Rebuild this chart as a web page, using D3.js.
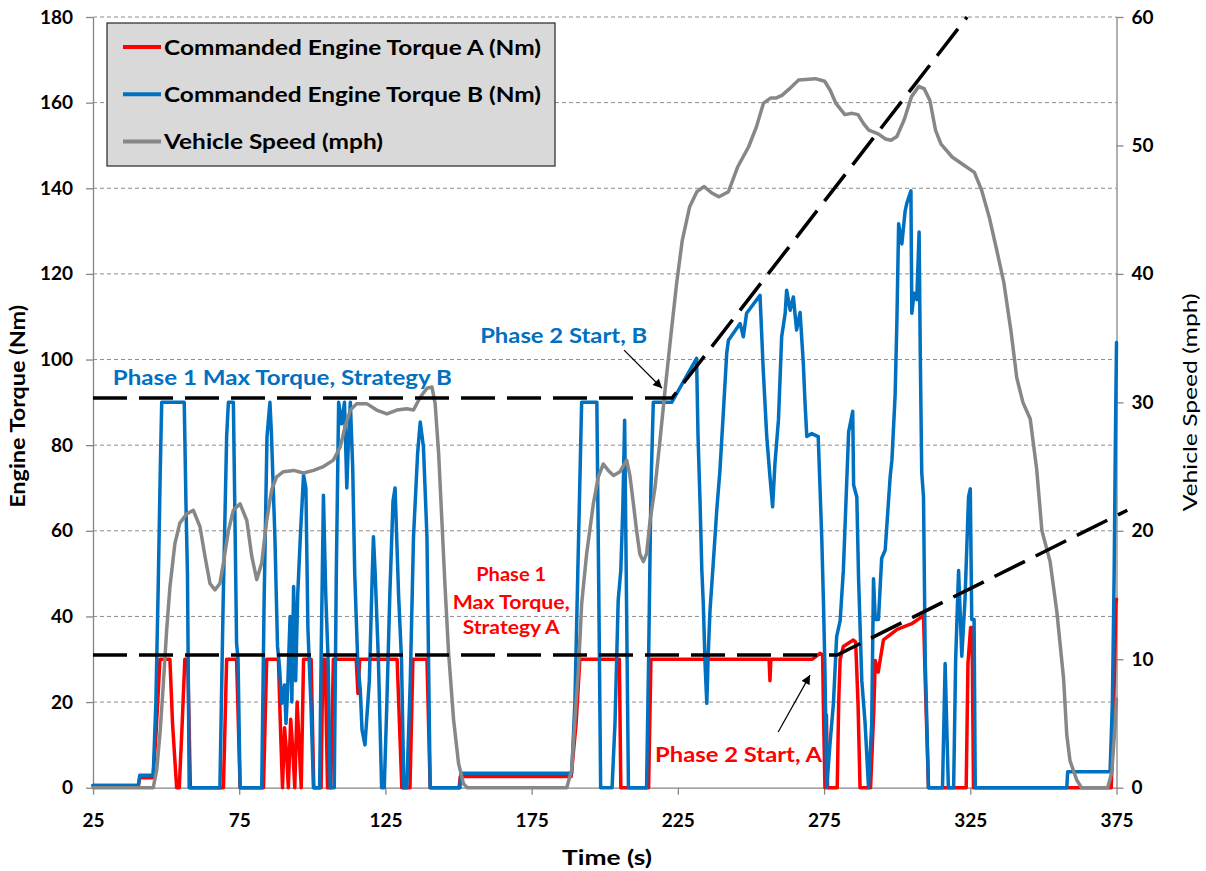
<!DOCTYPE html>
<html>
<head>
<meta charset="utf-8">
<script src="https://cdn.jsdelivr.net/npm/d3@7"></script>
<style>
  body { margin: 0; background: #fff; }
  svg text { font-family: Lato, "Open Sans", sans-serif; }
</style>
</head>
<body>
<svg id="chart" width="1206" height="871"></svg>
<script>
// ---- data -------------------------------------------------------------
// Commanded engine torque, strategy A: [time s, torque Nm]
const torqueA = [
  [25,0.5],[40.5,0.5],[41,2.3],[45.5,2.3],[46.5,12],[47.9,30],[51.3,30],[52.2,15],[53.6,0],
  [54.5,0],[55.5,15],[56.4,30],[57.4,30],[58.3,0],[69.6,0],[70.7,30],[74.1,30],[75.3,0],
  [83.3,0],[84.4,30],[88.4,30],[89.2,12],[89.8,0],[90.5,14],[91.2,8],[91.8,0],[92.6,16],
  [93.3,9],[94,0],[94.8,20],[95.5,10],[96.2,0],[97,30],[99.6,30],[100.5,0],[103,0],
  [103.6,30],[104.4,30],[105.2,0],[106.3,0],[107.2,30],[115,30],[115.6,22],[116.2,30],
  [129,30],[129.8,15],[130.6,0],[133.4,0],[134.4,30],[139.2,30],[140.3,0],[150.2,0],
  [150.6,2.6],[188.5,2.6],[190.2,15],[191.5,30],[205,30],[205.5,0],[215,0],[215.8,30],
  [256.2,30],[256.5,25],[256.8,30],[271,30],[273.6,31.4],[274.5,31],[274.8,18],[275.3,0],
  [275.8,17],[276.2,0],[279.5,0],[280,20],[280.5,30],[281.6,33],[285,34.5],[285.8,34],
  [286.6,20],[287.3,0],[290.9,0],[292,18],[292.5,29.7],[293.5,27],[295.3,34.5],[300,37],
  [305,38.3],[309,40.2],[309.6,25],[310.7,0],[323.6,0],[324.2,29],[325.1,37.4],
  [325.6,37.4],[326.1,0],[373.2,0],[373.8,12],[374.4,30],[374.8,43],[375,44]
];

// Commanded engine torque, strategy B: [time s, torque Nm]
const torqueB = [
  [25,0.5],[40.5,0.5],[41,2.9],[45.6,2.9],[46.5,20],[47.3,47],[48,74],[48.5,90],[56.2,90],
  [56.8,66],[57.3,50],[57.9,0],[68.4,0],[69.5,43],[70.7,82],[71.3,90],[73,90],[73.6,60],
  [74.1,33.7],[74.6,30],[75.3,0],[82.7,0],[83.5,43],[84.5,82],[85.5,90],[86,83],[87.2,58.6],
  [88.1,33],[88.8,28],[89.5,19.7],[90.5,24],[91,15],[91.5,22],[92.4,40],[93,20],[93.6,47],
  [94.3,25],[95,45],[96,60],[97,73],[97.8,70],[98.5,37],[99.5,20],[100.4,0],[102.5,0],
  [103,30],[103.8,68.3],[104.6,45],[105.4,29.8],[106.1,0],[107.5,0],[108.2,50],[109,90],
  [110,85],[111,90],[111.8,70],[112.4,82],[113,90],[113.8,75],[114.5,50],[115.5,30],
  [116.4,22.8],[117,13.5],[118,10],[119.5,25],[120.5,50],[120.9,58.6],[121.5,50],
  [122.6,29.8],[123.7,0],[124.6,0],[125.5,20],[126.5,45],[127.6,67],[128.3,70],[129.5,45],
  [130.5,29.8],[131.3,0],[132.3,0],[133.5,25],[134.6,58.6],[136,78],[136.9,85.4],[138,79.6],
  [139.2,58.6],[140.3,0],[150.5,0],[150.8,3.4],[188.7,3.4],[189.8,20],[190.8,50.8],
  [192.1,90],[197.3,90],[197.9,50],[198.6,0],[202.5,0],[203.5,15],[204.6,43.8],[205.5,50.8],
  [206.2,66],[206.8,85.8],[207.5,40],[208.1,0],[214.3,0],[215,30],[215.8,70],[216.6,90],
  [222.9,90],[231.4,100.3],[231.9,82],[232.6,66.4],[233.2,50.8],[233.7,43],[234.3,29],
  [234.9,19.7],[235.4,31.4],[236,41.5],[237.1,52.4],[238.3,64.8],[239.4,74.2],[240.6,88.2],
  [241.7,101.4],[242.3,104.5],[246.3,108.4],[247.4,105.3],[248.5,110.8],[253.1,115],
  [254.2,97.5],[255.4,82],[256.5,72.6],[257.4,65.6],[258.2,75.7],[259.4,85.9],[260.5,105.3],
  [261.7,110.8],[262.2,116.2],[263.4,111.5],[264.5,114.6],[265.6,106.9],[266.8,111],
  [267.9,99.1],[268.5,89.7],[269.1,82],[270.8,82.7],[273,82],[273.6,70.3],[274.2,58.6],
  [274.8,43],[275.3,27.5],[275.9,0],[277,10],[278.2,19.7],[279.3,35.3],[280.5,39],
  [281.6,50.8],[283.4,83.1],[284.8,87.9],[285.1,70.7],[286.2,67.9],[286.8,48.8],[287.9,25],
  [289,15.4],[290.2,0],[291.3,15],[291.9,48.8],[292.5,39.3],[293.6,39.3],[294.7,53.6],
  [295.9,55.5],[297.6,72.6],[298.2,76.5],[299.3,91.7],[299.9,108.9],[300.5,131.7],
  [301.6,127],[302.7,134.6],[303.3,136.5],[304.7,139.4],[305,110.8],[305.8,115.5],
  [306.7,114],[307.5,129.8],[307.9,101.2],[308.4,73.6],[309,67.9],[309.6,29.7],[310.7,0],
  [315.5,0],[316.4,29],[317.5,0],[319.3,0],[320,30],[321,50.7],[322.1,30.7],[323.2,44],
  [324.4,67.9],[325,69.8],[325.5,39.3],[326.3,39.3],[326.7,0],[358,0],[358.3,3.7],
  [372.8,3.7],[373.6,20],[374.2,50],[374.6,80],[375,104]
];

// Vehicle speed: [time s, mph]
const speed = [
  [25,0],[45.6,0],[46.8,1.4],[48,4.5],[49,7.9],[50.2,12.3],[51.3,15.6],[53,19],[54.7,20.6],
  [57,21.3],[59.3,21.6],[61.6,20.3],[63.3,18],[65,15.9],[66.7,15.4],[68.4,15.9],[69.6,17.5],
  [71.3,20],[73,21.6],[75.3,22.1],[77.6,20.8],[79.3,18],[81,16.2],[82.7,17.5],[84.4,20.8],
  [86.1,23.2],[87.8,24.2],[90.1,24.6],[93.6,24.7],[97,24.5],[100.4,24.7],[103.8,25],
  [107.2,25.5],[109.5,26.5],[111.2,28.1],[113,29.4],[115.2,29.9],[118.6,29.9],[122,29.4],
  [125.5,29.1],[128.9,29.4],[132.3,29.5],[134.6,29.4],[136.9,30.4],[139.2,31.1],[140.9,31.2],
  [142,29.9],[143.2,26],[144.3,20.8],[145.4,15.6],[146.6,10.5],[148.3,5.3],[150,1.9],
  [151.7,0.3],[153,0],[187,0],[188.7,1.4],[189.8,5.3],[191,9.2],[192.1,14.3],[193.8,18.2],
  [196.1,22.1],[197.8,24.2],[199.5,25.2],[201.2,24.7],[203,24.3],[205.2,24.6],[207.5,25.5],
  [208.6,24.3],[209.8,22.1],[210.9,20],[212,18.2],[213.2,17.6],[214.3,18.2],[215.5,20.8],
  [217.2,23.4],[219,27.3],[220.6,30.9],[222.7,35.4],[224.6,39.3],[226.5,42.6],[229,45.2],
  [231.5,46.4],[234,46.8],[236.6,46.3],[239.1,46],[242.3,46.4],[245.4,48.3],[249.2,49.9],
  [251.8,51.4],[254.3,53.3],[256.8,53.7],[258.7,53.7],[260.6,53.9],[263.1,54.4],[266.3,55.1],
  [272,55.2],[275.2,55],[277.1,54.3],[279,53.3],[282.1,52.4],[284.6,52.5],[286.6,52.4],
  [288.5,51.7],[290.3,51.2],[293.5,50.9],[296,50.5],[297.9,50.4],[299.9,50.7],[302.4,52],
  [304.9,53.8],[307.4,54.6],[309.3,54.4],[311.2,53.5],[313.1,51.2],[315,50.1],[318.8,49.1],
  [322.6,48.5],[326.4,47.9],[328.9,46.5],[331.5,44.4],[334,41.9],[336.5,39.3],[339,35.4],
  [340.9,31.9],[343,30],[345.5,28.7],[347.7,24.8],[349.5,20],[352.3,17.6],[354.6,13.7],
  [356.9,8.5],[358,4.1],[359.1,2.1],[361.4,0.6],[363,0],[372,0],[373.4,1.2],[374.5,4.9],
  [375,6.9]
];

// Torque limit lines for the two strategies: [time s, torque Nm]
const limitB = [[25,91],[223,91],[323.9,180]];
const limitA = [[25,31],[279.5,31],[378.7,64.8]];

// Axis ticks
const timeTicks = [25,75,125,175,225,275,325,375];
const torqueTicks = [0,20,40,60,80,100,120,140,160,180];
const speedTicks = [0,10,20,30,40,50,60];

// Series names and colours
const seriesNames = ["Commanded Engine Torque A (Nm)","Commanded Engine Torque B (Nm)","Vehicle Speed (mph)"];
const seriesColors = ["#ff0000","#0070c0","#878787"];

// Text callouts, anchored in data coordinates [time s, torque Nm]
const callouts = [
  {text:"Phase 1 Max Torque, Strategy B", at:[31.8,94.1], color:"#0070c0", anchor:"start"},
  {text:"Phase 2 Start, B", at:[157.4,103.8], color:"#0070c0", anchor:"start"},
  {text:"Phase 1", at:[168,48.2], color:"#ff0000", anchor:"middle"},
  {text:"Max Torque,", at:[168,41.8], color:"#ff0000", anchor:"middle"},
  {text:"Strategy A", at:[168,35.8], color:"#ff0000", anchor:"middle"},
  {text:"Phase 2 Start, A", at:[217.2,6.1], color:"#ff0000", anchor:"start"}
];
// Arrows: [from, to] in data coordinates
const arrows = [
  [[206.6,102.2],[219.6,93.3]],
  [[259.3,13.0],[270.2,26.3]]
];

// ---- drawing ----------------------------------------------------------
const svg = d3.select("#chart");
const plotL = 93, plotR = 1116.5, plotT = 17, plotB = 787.7;

const x = d3.scaleLinear().domain([25,375]).range([plotL,plotR]);
const yT = d3.scaleLinear().domain([0,180]).range([plotB,plotT]);
const yS = d3.scaleLinear().domain([0,60]).range([plotB,plotT]);

const axisGray = "#868686";

// stretch a text run to a given rendered width
function fit(sel, len) {
  return sel.attr("textLength", len).attr("lengthAdjust", "spacingAndGlyphs");
}

// horizontal gridlines
svg.append("g").selectAll("line")
  .data(torqueTicks.filter(d => d > 0))
  .join("line")
  .attr("x1", plotL).attr("x2", plotR)
  .attr("y1", d => yT(d)).attr("y2", d => yT(d))
  .attr("stroke", "#8c8c8c").attr("stroke-width", 1)
  .attr("stroke-dasharray", "4,3");

function styleAxis(g) {
  g.select(".domain").attr("stroke", axisGray).attr("stroke-width", 1.3);
  g.selectAll(".tick line").attr("stroke", axisGray).attr("stroke-width", 1.3);
  g.selectAll(".tick text")
    .attr("fill", "#000")
    .attr("font-family", "Lato, sans-serif")
    .attr("font-weight", "bold")
    .attr("font-size", 19);
}

svg.append("g")
  .attr("transform", `translate(${plotL},0)`)
  .call(d3.axisLeft(yT).tickValues(torqueTicks).tickSize(7).tickSizeOuter(0).tickPadding(13))
  .call(styleAxis);

svg.append("g")
  .attr("transform", `translate(${plotR},0)`)
  .call(d3.axisRight(yS).tickValues(speedTicks).tickSize(7).tickSizeOuter(0).tickPadding(8))
  .call(styleAxis);

svg.append("g")
  .attr("transform", `translate(0,${plotB})`)
  .call(d3.axisBottom(x).tickValues(timeTicks).tickSize(7).tickSizeOuter(0).tickPadding(19))
  .call(styleAxis);

// axis titles
fit(svg.append("text")
  .attr("transform", `translate(25,${(plotT + plotB) / 2 + 4}) rotate(-90)`)
  .attr("text-anchor", "middle")
  .attr("font-size", 20).attr("font-weight", "bold")
  .text("Engine Torque (Nm)"), 203);
fit(svg.append("text")
  .attr("transform", `translate(1197,${(plotT + plotB) / 2}) rotate(-90)`)
  .attr("text-anchor", "middle")
  .attr("font-size", 19)
  .text("Vehicle Speed (mph)"), 218);
fit(svg.append("text")
  .attr("x", 607).attr("y", 865)
  .attr("text-anchor", "middle")
  .attr("font-size", 21).attr("font-weight", "bold")
  .text("Time (s)"), 90);

// data series
const lineT = d3.line().x(d => x(d[0])).y(d => yT(d[1]));
const lineS = d3.line().x(d => x(d[0])).y(d => yS(d[1]));

const seriesG = svg.append("g").attr("fill", "none")
  .attr("stroke-width", 3.5).attr("stroke-linejoin", "round").attr("stroke-linecap", "round");
seriesG.append("path").attr("d", lineT(torqueA)).attr("stroke", seriesColors[0]);
seriesG.append("path").attr("d", lineT(torqueB)).attr("stroke", seriesColors[1]);
seriesG.append("path").attr("d", lineS(speed)).attr("stroke", seriesColors[2]);

// limit lines
svg.append("g").selectAll("path")
  .data([limitB, limitA])
  .join("path")
  .attr("d", d => lineT(d))
  .attr("fill", "none").attr("stroke", "#000")
  .attr("stroke-width", 3.5).attr("stroke-dasharray", "34,12");

// arrows
const defs = svg.append("defs");
defs.append("marker")
  .attr("id", "arrowhead")
  .attr("viewBox", "0 0 10 10").attr("refX", 10).attr("refY", 5)
  .attr("markerWidth", 10).attr("markerHeight", 9)
  .attr("markerUnits", "userSpaceOnUse")
  .attr("orient", "auto")
  .append("path").attr("d", "M0,0 L10,5 L0,10 Z").attr("fill", "#000");

svg.append("g").selectAll("line")
  .data(arrows)
  .join("line")
  .attr("x1", d => x(d[0][0])).attr("y1", d => yT(d[0][1]))
  .attr("x2", d => x(d[1][0])).attr("y2", d => yT(d[1][1]))
  .attr("stroke", "#000").attr("stroke-width", 1.2)
  .attr("marker-end", "url(#arrowhead)");

// callout labels
const calloutWidth = {
  "Phase 1 Max Torque, Strategy B": 339,
  "Phase 2 Start, B": 167,
  "Phase 1": 70,
  "Max Torque,": 117,
  "Strategy A": 97,
  "Phase 2 Start, A": 167
};
callouts.forEach(c => {
  const small = c.color === "#ff0000" && c.text.indexOf("Phase 2") < 0;
  fit(svg.append("text")
    .attr("x", x(c.at[0])).attr("y", yT(c.at[1]))
    .attr("text-anchor", c.anchor)
    .attr("fill", c.color)
    .attr("font-weight", "bold")
    .attr("font-size", small ? 19 : 21)
    .text(c.text), calloutWidth[c.text]);
});

// legend
const legend = svg.append("g");
legend.append("rect")
  .attr("x", 107).attr("y", 23).attr("width", 448).attr("height", 143)
  .attr("fill", "#d9d9d9").attr("stroke", "#262626").attr("stroke-width", 1.2);
const legendWidth = [377, 377, 219];
const rows = legend.selectAll("g.row")
  .data(seriesNames)
  .join("g").attr("class", "row")
  .attr("transform", (d, i) => `translate(123,${47 + i * 47.2})`);
rows.append("line")
  .attr("x1", 0).attr("x2", 38)
  .attr("stroke", (d, i) => seriesColors[i]).attr("stroke-width", 4);
rows.append("text")
  .attr("x", 41).attr("y", 7.5)
  .attr("font-size", 21).attr("font-weight", "bold")
  .attr("textLength", (d, i) => legendWidth[i])
  .attr("lengthAdjust", "spacingAndGlyphs")
  .text(d => d);
</script>
</body>
</html>
